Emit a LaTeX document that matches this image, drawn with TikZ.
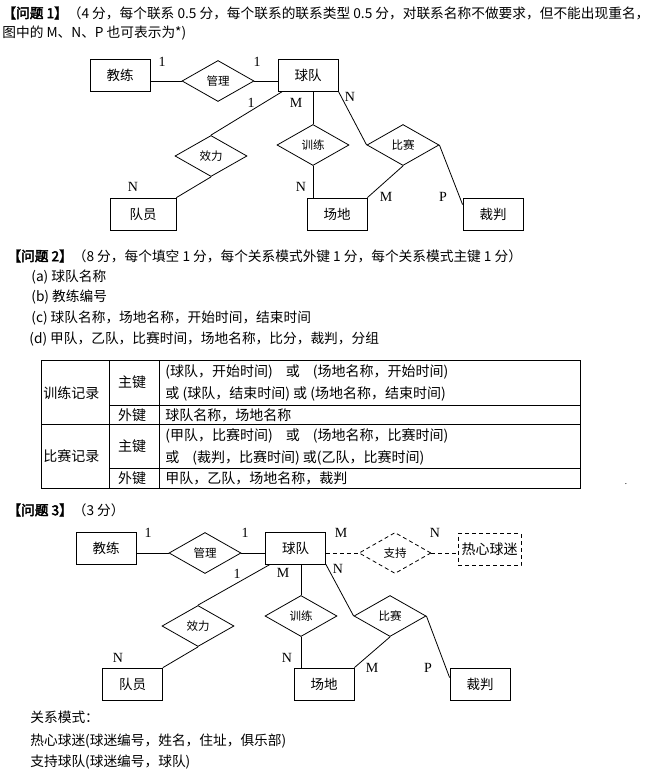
\documentclass[tikz,border=0pt]{standalone}
\usepackage{fontspec}
\setmainfont{Noto Sans CJK SC}[AutoFakeBold=3]
\newfontfamily\latinfont{Liberation Serif}
\usetikzlibrary{positioning,shapes.geometric}

\begin{document}
\begin{tikzpicture}[x=1pt, y=-1pt, line width=0.8pt,
    txt/.style={anchor=west, inner sep=0, font=\fontsize{13.7}{16}\selectfont},
    cell/.style={inner sep=0, font=\fontsize{14}{16}\selectfont},
    entity/.style={draw, rectangle, minimum width=60, minimum height=32, inner sep=0,
      font=\fontsize{13.5}{15}\selectfont},
    relation/.style={draw, diamond, aspect=1.7, minimum width=72, minimum height=41,
      inner sep=0, font=\fontsize{11.5}{13}\selectfont},
    card/.style={inner sep=0, font=\latinfont\fontsize{14}{14}\selectfont},
    faint/.style={dash pattern=on 4pt off 3pt}]
  \useasboundingbox (0,0) rectangle (652,773);

  % question 1
  \node[txt] (q1) at (2,13) {\textbf{【问题 1】}（4 分，每个联系 0.5 分，每个联系的联系类型 0.5 分，对联系名称不做要求，但不能出现重名，};
  \node[txt] (q1b) at (2,33) {图中的 M、N、P 也可表示为*)};

  \node[entity] (coach1) at (120,75) {教练};
  \node[relation] (manage1) at (218,81) {管理};
  \node[entity] (team1) at (308,75) {球队};
  \node[relation] (serve1) at (211,156) {效力};
  \node[relation] (train1) at (313,145) {训练};
  \node[relation] (match1) at (403,145) {比赛};
  \node[entity, minimum width=66] (player1) at (143,214) {队员};
  \node[entity] (field1) at (337,214) {场地};
  \node[entity] (referee1) at (493,214) {裁判};
  \draw (coach1.east |- manage1.west) -- (manage1.west);
  \draw (manage1.east) -- (manage1.east -| team1.west);
  \draw ([xshift=5]team1.south west) -- (serve1.north);
  \draw (train1.north |- team1.south) -- (train1.north);
  \draw (team1.south east) -- (match1.west);
  \draw (serve1.south) -- (player1.north east);
  \draw (train1.south) -- (train1.south |- field1.north);
  \draw (match1.south) -- (field1.north east);
  \draw (match1.east) -- ([yshift=-7]referee1.north west);
  \node[card] (c1a) at (162,62) {1};
  \node[card] (c1b) at (257,62) {1};
  \node[card] (c1c) at (251,103) {1};
  \node[card] (c1d) at (296,103) {M};
  \node[card] (c1e) at (350,97) {N};
  \node[card] (c1f) at (133,187) {N};
  \node[card] (c1g) at (301,187) {N};
  \node[card] (c1h) at (386,197) {M};
  \node[card] (c1i) at (443,197) {P};

  % question 2
  \node[txt] (q2) at (7,256) {\textbf{【问题 2】}（8 分，每个填空 1 分，每个关系模式外键 1 分，每个关系模式主键 1 分）};
  \node[txt] (qa) at (31,277) {(a) 球队名称};
  \node[txt] (qb) at (31,297) {(b) 教练编号};
  \node[txt] (qc) at (31,318) {(c) 球队名称，场地名称，开始时间，结束时间};
  \node[txt] (qd) at (29,339) {(d) 甲队，乙队，比赛时间，场地名称，比分，裁判，分组};

  \draw (41,360) rectangle (580,488);
  \draw (109,360) -- (109,488);
  \draw (159,360) -- (159,488);
  \draw (109,405) -- (580,405);
  \draw (41,424) -- (580,424);
  \draw (109,468) -- (580,468);
  \node[cell, anchor=west] (tr) at (43,393) {训练记录};
  \node[cell] (trpk) at (132,382) {主键};
  \node[cell] (trfk) at (132,415) {外键};
  \node[cell, anchor=west] (tr1) at (165,372) {(球队，开始时间)\hspace{13pt}或\hspace{13pt}(场地名称，开始时间)};
  \node[cell, anchor=west] (tr2) at (165,394) {或 (球队，结束时间) 或 (场地名称，结束时间)};
  \node[cell, anchor=west] (tr3) at (165,415) {球队名称，场地名称};
  \node[cell, anchor=west] (mt) at (43,456) {比赛记录};
  \node[cell] (mtpk) at (132,446) {主键};
  \node[cell] (mtfk) at (132,478) {外键};
  \node[cell, anchor=west] (mt1) at (165,436) {(甲队，比赛时间)\hspace{13pt}或\hspace{13pt}(场地名称，比赛时间)};
  \node[cell, anchor=west] (mt2) at (165,458) {或\hspace{13pt}(裁判，比赛时间) 或(乙队，比赛时间)};
  \node[cell, anchor=west] (mt3) at (165,478) {甲队，乙队，场地名称，裁判};
  \node[inner sep=0, font=\fontsize{8}{8}\selectfont] (dot) at (626,484) {.};

  % question 3
  \node[txt] (q3) at (7,510) {\textbf{【问题 3】}（3 分）};

  \node[entity] (coach3) at (106,548) {教练};
  \node[relation] (manage3) at (205,553) {管理};
  \node[entity] (team3) at (295.5,548) {球队};
  \node[relation, faint] (support3) at (395,553) {支持};
  \node[entity, faint, minimum width=63, font=\fontsize{14}{15}\selectfont] (fan3) at (489.5,549.5) {热心球迷};
  \node[relation] (serve3) at (198,626) {效力};
  \node[relation] (train3) at (301,616) {训练};
  \node[relation] (match3) at (390,616) {比赛};
  \node[entity] (player3) at (132.5,684) {队员};
  \node[entity] (field3) at (324,684) {场地};
  \node[entity] (referee3) at (480,684) {裁判};
  \draw (coach3.east |- manage3.west) -- (manage3.west);
  \draw (manage3.east) -- (manage3.east -| team3.west);
  \draw[faint] (team3.east |- support3.west) -- (support3.west);
  \draw[faint] (support3.east) -- (support3.east -| fan3.west);
  \draw ([xshift=5]team3.south west) -- (serve3.north);
  \draw (train3.north |- team3.south) -- (train3.north);
  \draw (team3.south east) -- (match3.west);
  \draw (serve3.south) -- (player3.north east);
  \draw (train3.south) -- (train3.south |- field3.north);
  \draw (match3.south) -- (field3.north east);
  \draw (match3.east) -- ([yshift=-10]referee3.north west);
  \node[card] (c3a) at (148,533) {1};
  \node[card] (c3b) at (245,533) {1};
  \node[card] (c3c) at (341,533) {M};
  \node[card] (c3d) at (435,533) {N};
  \node[card] (c3e) at (237,574) {1};
  \node[card] (c3f) at (283,573) {M};
  \node[card] (c3g) at (338,569) {N};
  \node[card] (c3h) at (118,658) {N};
  \node[card] (c3i) at (287,658) {N};
  \node[card] (c3j) at (372,668) {M};
  \node[card] (c3k) at (428,668) {P};

  \node[txt] (rel) at (30,717) {关系模式：};
  \node[txt] (rel1) at (30,741) {热心球迷(球迷编号，姓名，住址，俱乐部)};
  \node[txt] (rel2) at (30,762) {支持球队(球迷编号，球队)};
\end{tikzpicture}
\end{document}
